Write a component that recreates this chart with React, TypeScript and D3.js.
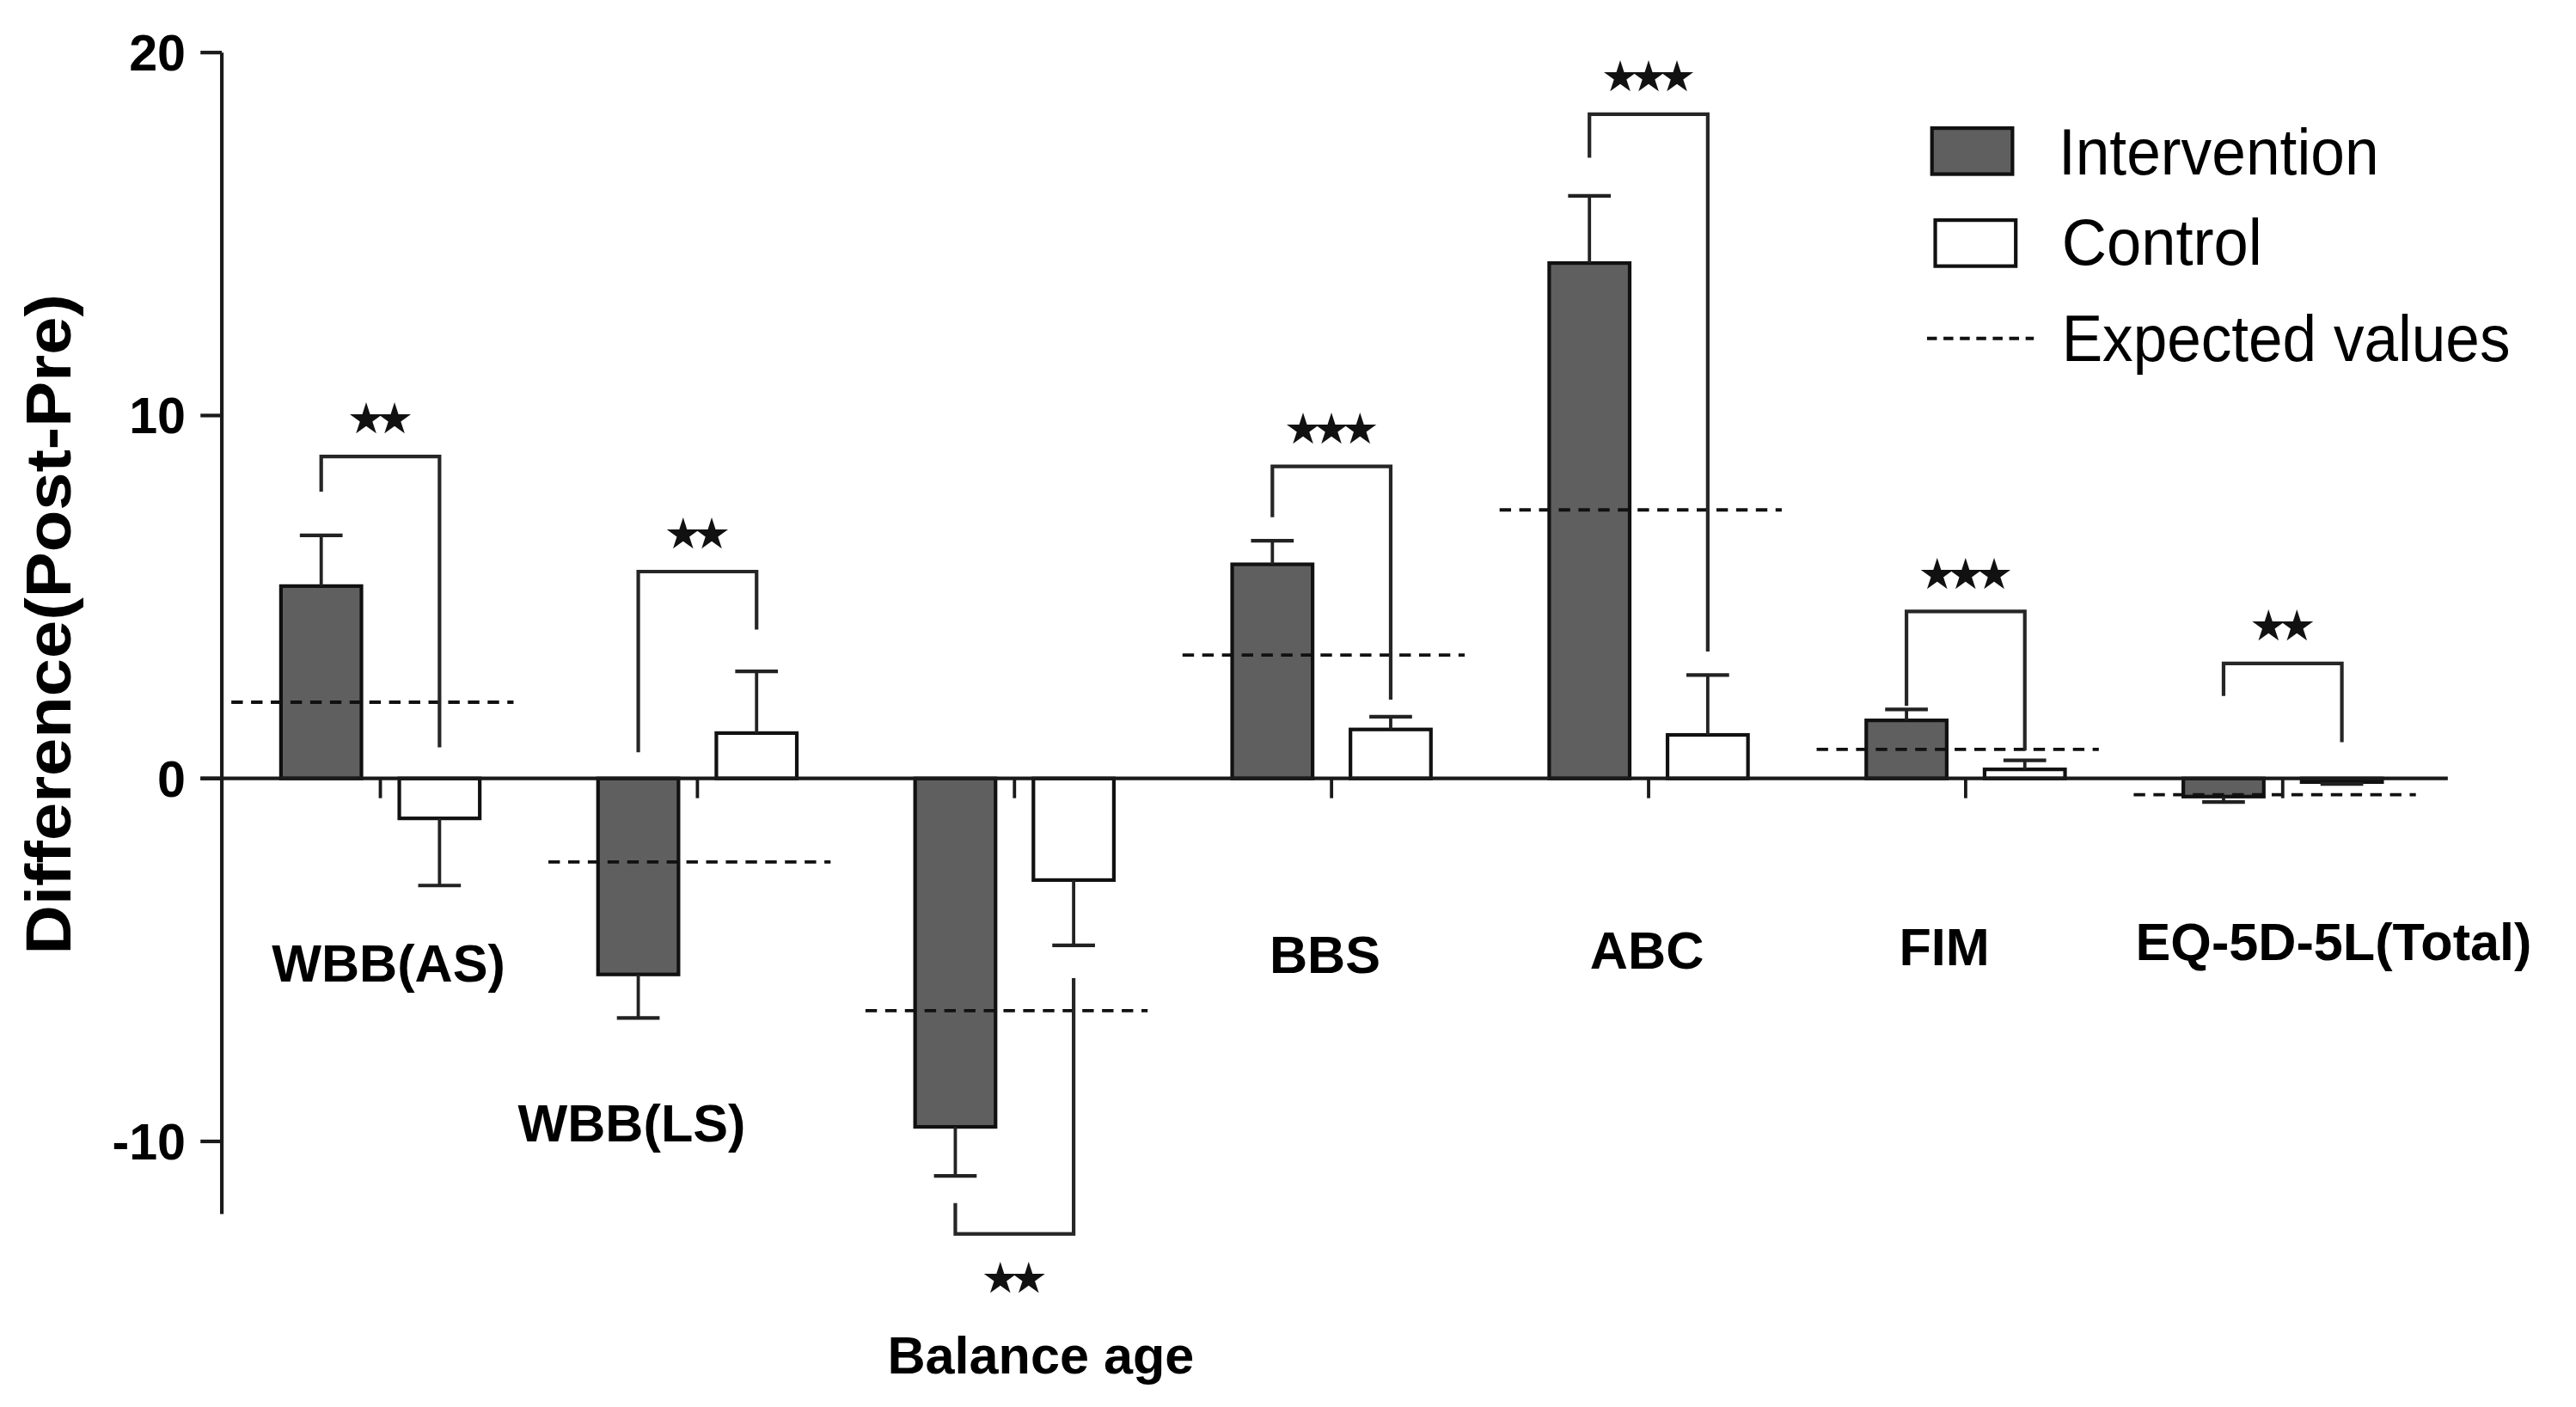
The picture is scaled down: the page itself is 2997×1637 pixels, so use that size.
import * as d3 from "d3";

const categories = ["WBB(AS)", "WBB(LS)", "Balance age", "BBS", "ABC", "FIM", "EQ-5D-5L(Total)"];
const series = ["Intervention", "Control"];
const intervention = [5.3, -5.4, -9.6, 5.9, 14.2, 1.6, -0.5];
const interventionErr = [1.4, 1.2, 1.35, 0.65, 1.85, 0.3, 0.15];
const control = [-1.1, 1.25, -2.8, 1.35, 1.2, 0.25, -0.1];
const controlErr = [1.85, 1.7, 1.8, 0.35, 1.65, 0.25, 0.05];
const expected = [2.1, -2.3, -6.4, 3.4, 7.4, 0.8, -0.45];
// significance brackets: level of the bar joining the legs, end of left leg, end of right leg
const bracketLevel = [8.87, 5.7, -12.55, 8.6, 18.3, 4.6, 3.17];
const bracketLeft = [7.9, 0.72, -11.7, 7.2, 17.1, 2.0, 2.27];
const bracketRight = [0.86, 4.1, -5.5, 2.17, 3.5, 0.77, 1.0];
const stars = ["★★", "★★", "★★", "★★★", "★★★", "★★★", "★★"];
const yTicks = [20, 10, 0, -10];

const FONT = "'Liberation Sans', Arial, sans-serif";
const W = 1568;
const H = 856.5;
const BAR_FILL = "#5f5f5f";

export default function App() {
  const x = d3.scaleBand<string>().domain(categories).range([135, 1486]).padding(0);
  const inner = d3.scaleBand<string>().domain(series).range([-60.5, 60.5]).paddingInner(0.32);
  const y = d3.scaleLinear().domain([-12, 20]).range([739, 32]);
  const y0 = y(0);
  const center = (c: string) => (x(c) ?? 0) + x.bandwidth() / 2;
  const barCenter = (c: string, s: string) => center(c) + (inner(s) ?? 0) + inner.bandwidth() / 2;

  // where each group's label sits (data units for the row, px shift sideways)
  const labelAt = [-5.1, -9.5, -15.9, -4.85, -4.75, -4.65, -4.5];
  const labelShift = [5, -40, 16, -4, -1, -13, 31];

  const bars = categories.flatMap((c, i) => [
    { c, s: series[0], v: intervention[i], e: interventionErr[i], fill: BAR_FILL },
    { c, s: series[1], v: control[i], e: controlErr[i], fill: "#ffffff" },
  ]);

  return (
    <svg
      width={2997}
      height={1637}
      viewBox={`0 0 ${W} ${H}`}
      style={{ position: "absolute", left: 0, top: 0, background: "#fff" }}
    >
      <rect x={0} y={0} width={W} height={H} fill="#fff" />
      {/* y axis */}
      <line x1={135} x2={135} y1={y(20)} y2={y(-12)} stroke="#1a1a1a" strokeWidth={2.2} />
      {yTicks.map((t) => (
        <g key={t}>
          <line x1={122} x2={135} y1={y(t)} y2={y(t)} stroke="#1a1a1a" strokeWidth={2.2} />
          <text
            x={113}
            y={y(t) + 11}
            textAnchor="end"
            fontFamily={FONT}
            fontWeight="bold"
            fontSize={31}
            fill="#000"
          >
            {t}
          </text>
        </g>
      ))}
      <text
        transform={`translate(43,${380}) rotate(-90)`}
        textAnchor="middle"
        fontFamily={FONT}
        fontWeight="bold"
        fontSize={39}
        textLength={402}
        lengthAdjust="spacingAndGlyphs"
        fill="#000"
      >
        Difference(Post-Pre)
      </text>

      {/* bars */}
      {bars.map((b) => {
        const bx = barCenter(b.c, b.s);
        const yv = y(b.v);
        const ye = y(b.v + Math.sign(b.v) * b.e);
        return (
          <g key={b.c + b.s}>
            <rect
              x={bx - inner.bandwidth() / 2}
              y={Math.min(yv, y0)}
              width={inner.bandwidth()}
              height={Math.abs(yv - y0)}
              fill={b.fill}
              stroke="#111"
              strokeWidth={2.2}
            />
            <line x1={bx} x2={bx} y1={yv} y2={ye} stroke="#222" strokeWidth={2} />
            <line x1={bx - 13} x2={bx + 13} y1={ye} y2={ye} stroke="#222" strokeWidth={2.2} />
          </g>
        );
      })}

      {/* expected values */}
      {categories.map((c, i) => (
        <line
          key={"exp" + c}
          x1={(x(c) ?? 0) + x.bandwidth() * 0.03}
          x2={(x(c) ?? 0) + x.bandwidth() * 0.92}
          y1={y(expected[i])}
          y2={y(expected[i])}
          stroke="#111"
          strokeWidth={2}
          strokeDasharray="7,5"
        />
      ))}

      {/* significance brackets */}
      {categories.map((c, i) => {
        const xl = barCenter(c, series[0]);
        const xr = barCenter(c, series[1]);
        const yl = y(bracketLevel[i]);
        const below = bracketLevel[i] < 0;
        return (
          <g key={"br" + c}>
            <path
              d={`M${xl},${y(bracketLeft[i])}V${yl}H${xr}V${y(bracketRight[i])}`}
              fill="none"
              stroke="#262626"
              strokeWidth={2.2}
            />
            <text
              x={(xl + xr) / 2 - 3}
              y={below ? yl + 27 + 9 : yl - 23 + 9}
              textAnchor="middle"
              fontFamily="'DejaVu Sans', sans-serif"
              fontSize={26}
              letterSpacing={-6}
              fill="#111"
            >
              {stars[i]}
            </text>
          </g>
        );
      })}

      {/* zero line and group ticks */}
      <line x1={122} x2={1490} y1={y0} y2={y0} stroke="#1a1a1a" strokeWidth={2.2} />
      {categories.map((c) => (
        <line key={"t" + c} x1={center(c)} x2={center(c)} y1={y0} y2={y0 + 12} stroke="#1a1a1a" strokeWidth={2} />
      ))}

      {/* category labels */}
      {categories.map((c, i) => (
        <text
          key={"l" + c}
          x={center(c) + labelShift[i]}
          y={y(labelAt[i]) + 11}
          textAnchor="middle"
          fontFamily={FONT}
          fontWeight="bold"
          fontSize={32}
          fill="#000"
        >
          {c}
        </text>
      ))}

      {/* legend */}
      <rect x={1176} y={78} width={49} height={28} fill={BAR_FILL} stroke="#111" strokeWidth={2.2} />
      <text x={1253} y={106} fontFamily={FONT} fontSize={40} textLength={195} lengthAdjust="spacingAndGlyphs" fill="#000">
        Intervention
      </text>
      <rect x={1178} y={134} width={49} height={28} fill="#fff" stroke="#111" strokeWidth={2.2} />
      <text x={1255} y={161} fontFamily={FONT} fontSize={40} textLength={122} lengthAdjust="spacingAndGlyphs" fill="#000">
        Control
      </text>
      <line x1={1173} x2={1238} y1={206} y2={206} stroke="#111" strokeWidth={2} strokeDasharray="6,4" />
      <text x={1255} y={220} fontFamily={FONT} fontSize={40} textLength={273} lengthAdjust="spacingAndGlyphs" fill="#000">
        Expected values
      </text>
    </svg>
  );
}
